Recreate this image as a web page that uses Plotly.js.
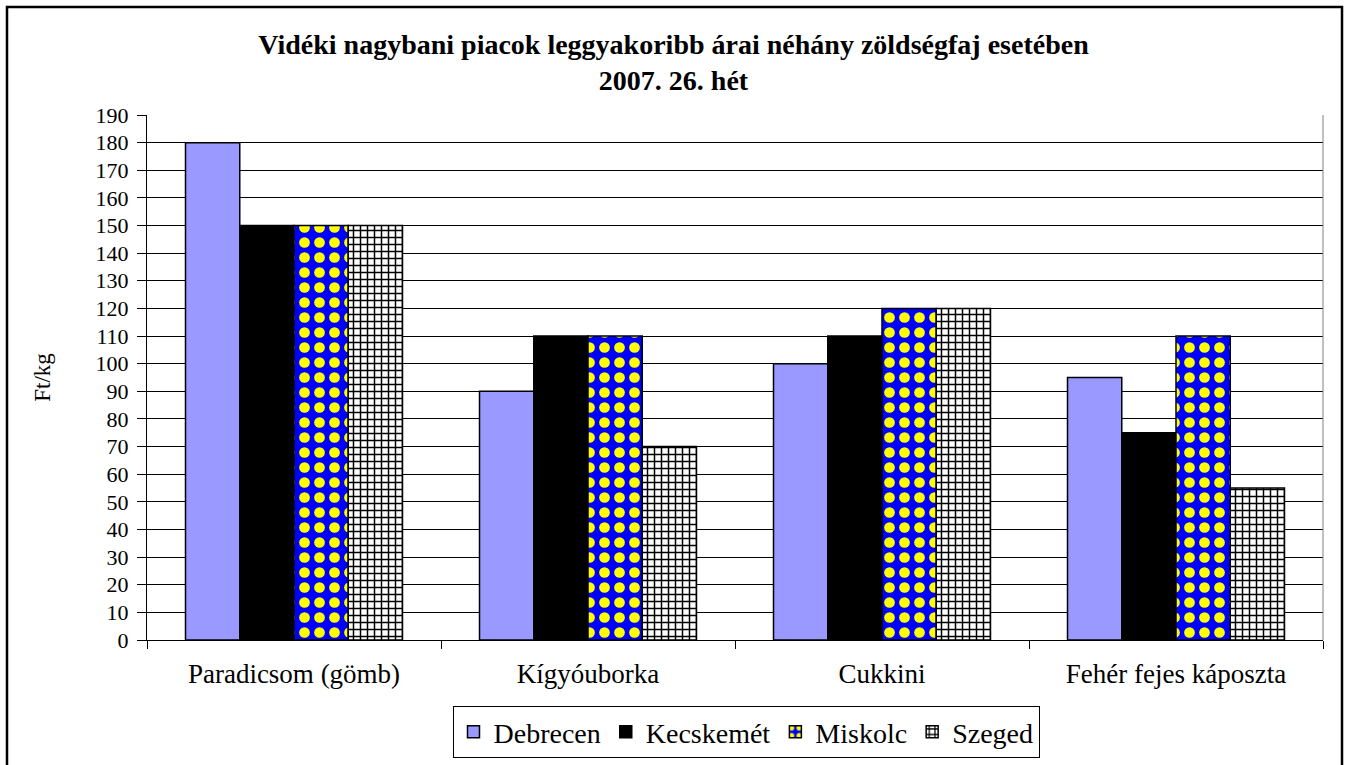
<!DOCTYPE html>
<html>
<head>
<meta charset="utf-8">
<script src="https://cdn.plot.ly/plotly-3.0.1.min.js"></script>
<style>
  html, body { margin: 0; padding: 0; background: #fff; }
  #chart { width: 1347px; height: 765px; }
</style>
</head>
<body>
<div id="chart"></div>
<script>
const categories = ["Paradicsom (gömb)", "Kígyóuborka", "Cukkini", "Fehér fejes káposzta"];
const debrecen = [180, 90, 100, 95];
const kecskemet = [150, 110, 110, 75];
const miskolc = [150, 110, 120, 110];
const szeged = [150, 70, 120, 55];
const yTicks = [0,10,20,30,40,50,60,70,80,90,100,110,120,130,140,150,160,170,180,190];

const serif = "Liberation Serif";
const outline = { color: "#000", width: 1.5 };

const traces = [
  { type: "bar", name: "Debrecen", x: categories, y: debrecen,
    marker: { color: "#9999FF", line: outline } },
  { type: "bar", name: "Kecskemét", x: categories, y: kecskemet,
    marker: { color: "#000000", line: outline } },
  { type: "bar", name: "Miskolc", x: categories, y: miskolc,
    marker: { color: "#0000FF", line: outline,
      pattern: { shape: ".", bgcolor: "#0000FF", fgcolor: "#FFFF00", fillmode: "replace", size: 15, solidity: 0.4 } } },
  { type: "bar", name: "Szeged", x: categories, y: szeged,
    marker: { color: "#FFFFFF", line: outline,
      pattern: { shape: "+", bgcolor: "#FFFFFF", fgcolor: "#000000", fillmode: "replace", size: 7, solidity: 0.38 } } }
];

const L = 147, R = 1323, T = 115, B = 640;
const W = R - L, H = B - T;
const px = x => (x - L) / W;
const py = y => (B - y) / H;

const layout = {
  width: 1347, height: 765,
  margin: { l: L, r: 1347 - R, t: T, b: 765 - B },
  paper_bgcolor: "#fff", plot_bgcolor: "#fff",
  font: { family: serif, color: "#000", size: 20 },
  title: {
    text: "<b>Vidéki nagybani piacok leggyakoribb árai néhány zöldségfaj esetében<br>2007. 26. hét</b>",
    font: { family: serif, size: 28, color: "#000" },
    x: 0.5, xanchor: "center", xref: "container",
    y: 1 - 54 / 765, yanchor: "top", yref: "container"
  },
  barmode: "group",
  bargap: 0.262,
  bargroupgap: 0,
  showlegend: true,
  legend: {
    orientation: "h",
    x: 746 / 1347, xanchor: "center", xref: "container",
    y: 1 - 706 / 765, yanchor: "top", yref: "container",
    bordercolor: "#000", borderwidth: 1,
    bgcolor: "#fff",
    font: { family: serif, size: 28, color: "#000" },
    itemwidth: 30,
    traceorder: "normal"
  },
  xaxis: {
    type: "category",
    automargin: false,
    showline: true, linecolor: "#000", linewidth: 1,
    ticks: "outside", tickson: "boundaries", ticklen: 8, tickcolor: "#000",
    ticklabelstandoff: 10,
    tickfont: { family: serif, size: 27, color: "#000" },
    showgrid: false, zeroline: false
  },
  yaxis: {
    range: [0, 190],
    automargin: false,
    tickvals: yTicks,
    ticktext: yTicks.map(String),
    showline: true, linecolor: "#000", linewidth: 1,
    ticks: "outside", ticklen: 9, tickcolor: "#000",
    ticklabelstandoff: 4,
    tickfont: { family: serif, size: 22, color: "#000" },
    showgrid: true, gridcolor: "#000", gridwidth: 1,
    zeroline: false,
    title: { text: "Ft/kg", font: { family: serif, size: 23, color: "#000" }, standoff: 38 }
  },
  shapes: [
    { type: "line", xref: "paper", yref: "paper", x0: 1, x1: 1, y0: 0, y1: 1,
      line: { color: "#808080", width: 1 } },
    { type: "rect", xref: "paper", yref: "paper",
      x0: px(7), x1: px(1342), y0: py(7), y1: py(800),
      line: { color: "#000", width: 2.5 }, fillcolor: "rgba(0,0,0,0)", layer: "above" }
  ]
};

Plotly.newPlot("chart", traces, layout, { displayModeBar: false, staticPlot: true });
</script>
</body>
</html>
